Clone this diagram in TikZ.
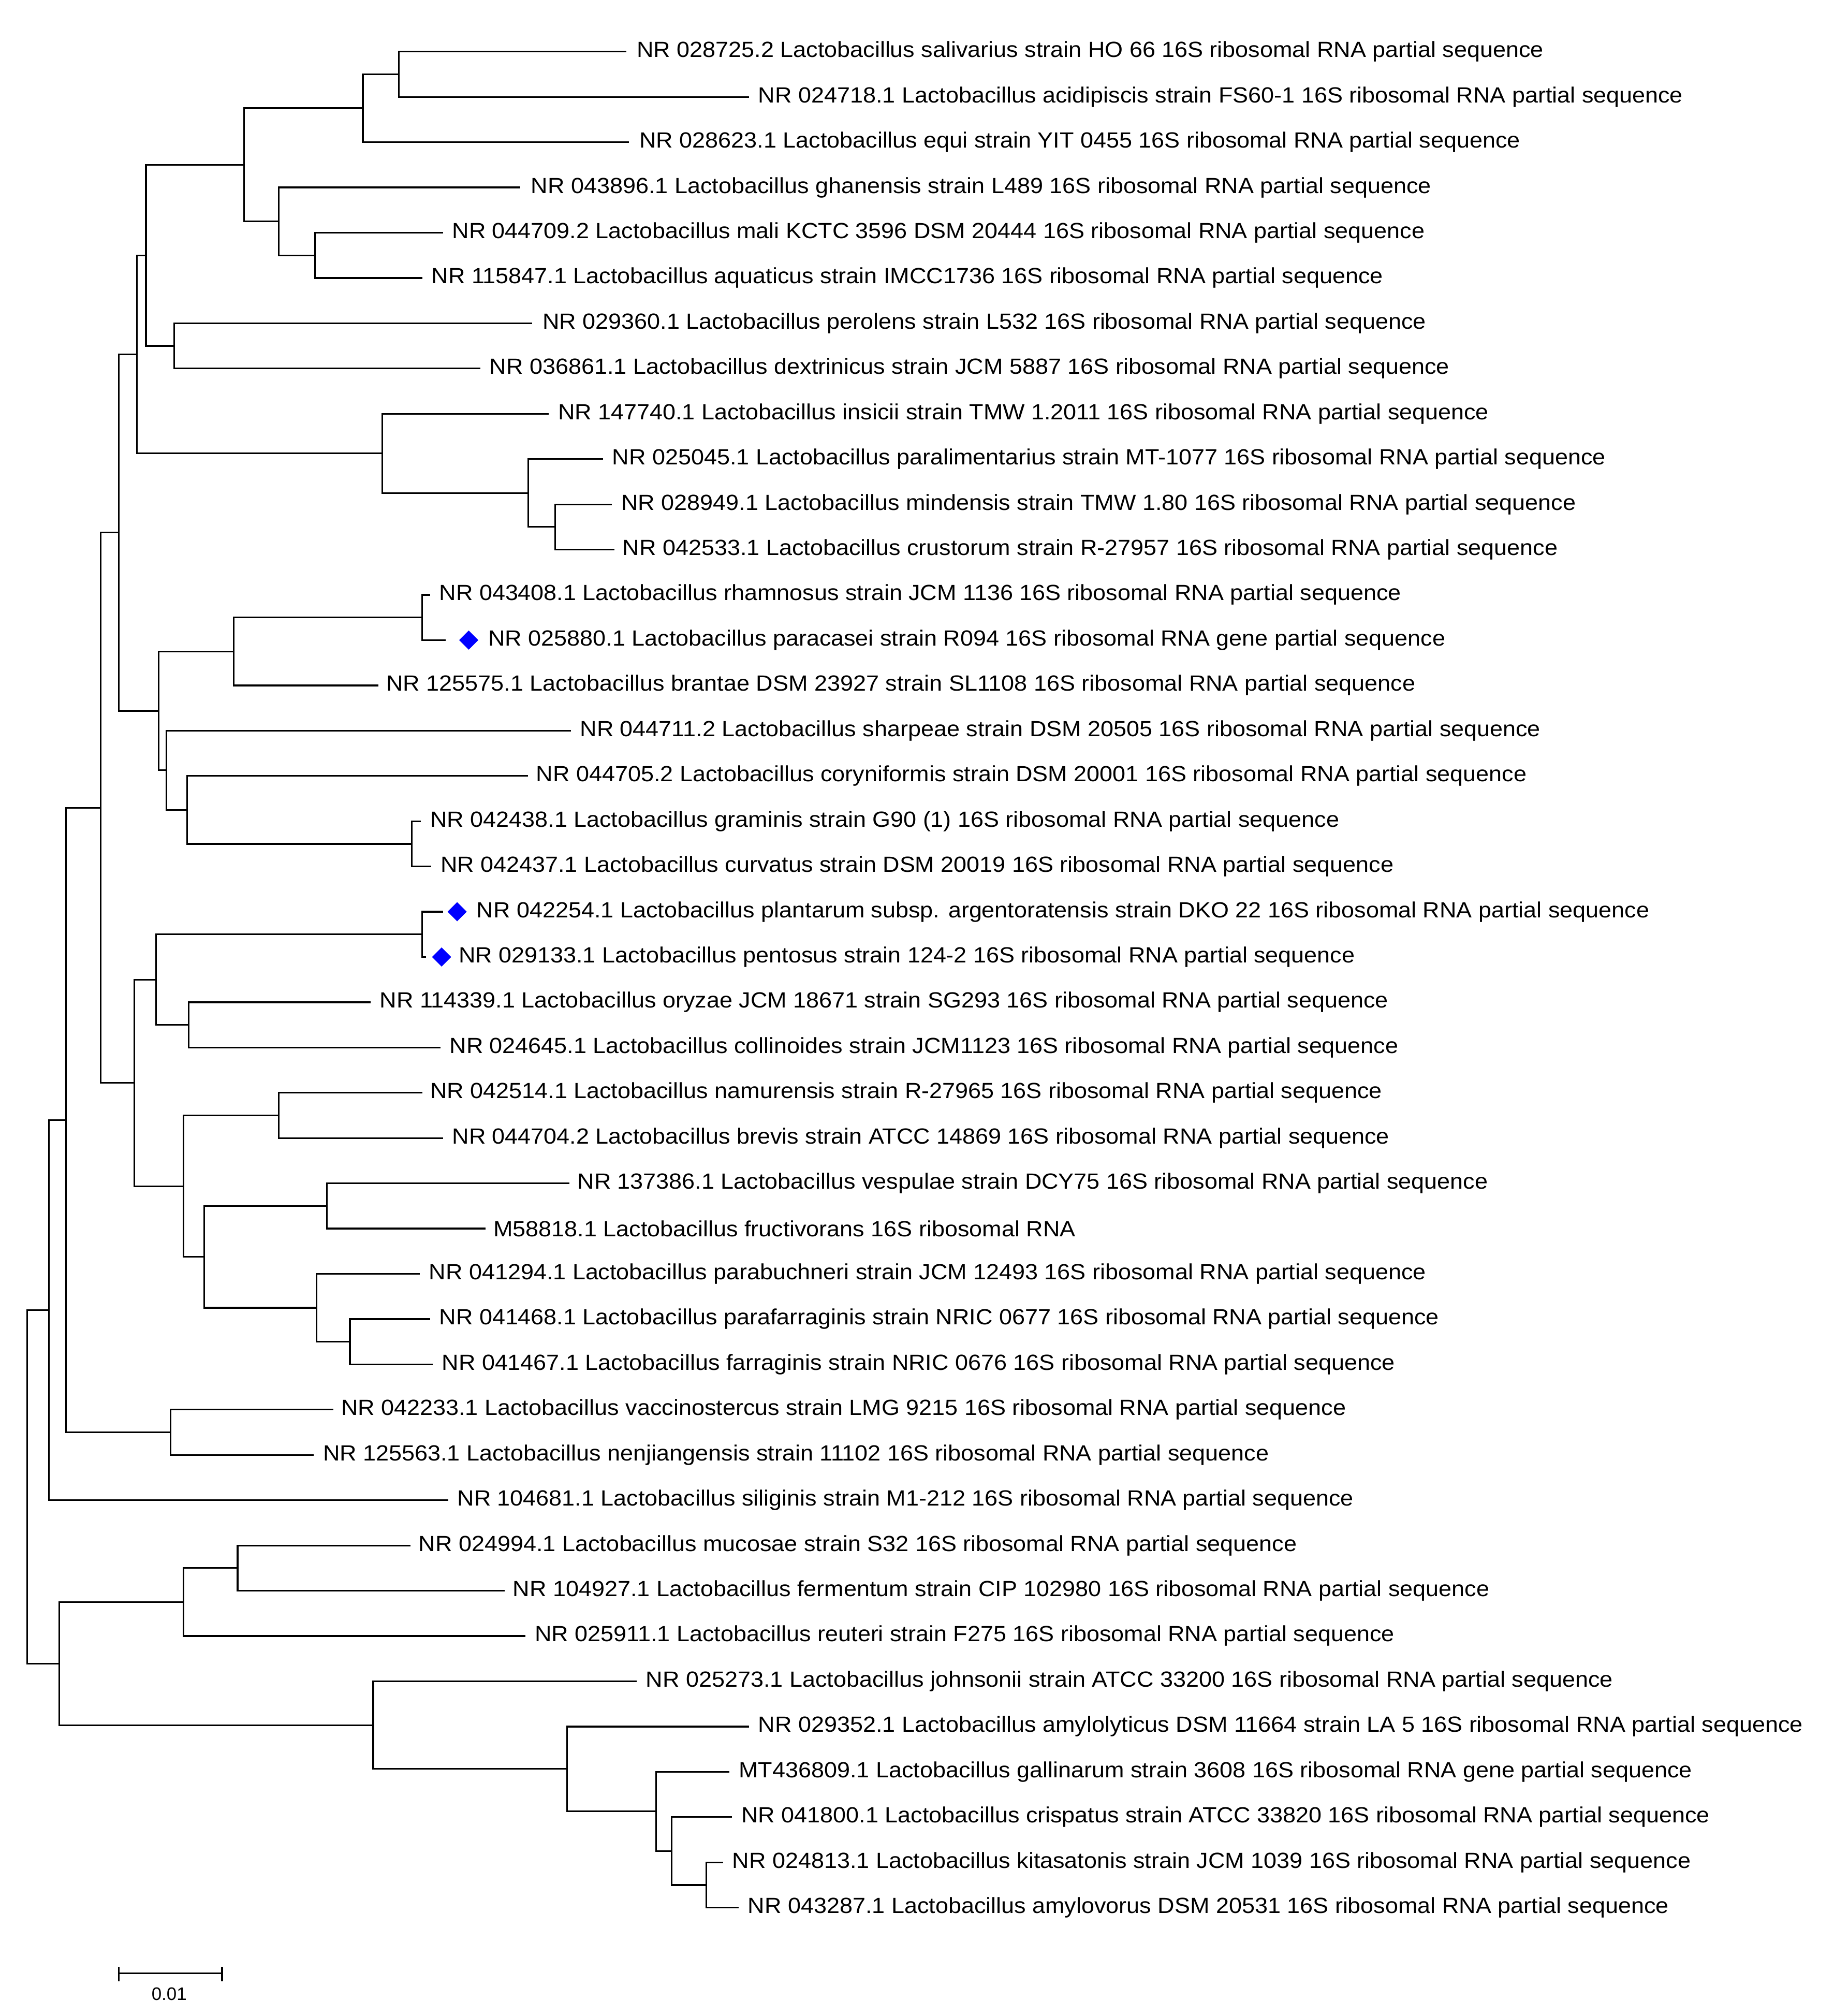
\documentclass[tikz,border=0pt]{standalone}
\usepackage{fontspec}
\setmainfont{Liberation Sans}
\newfontfamily\leaffont[FakeStretch=1.06]{Liberation Sans}
\usetikzlibrary{calc,shapes.geometric}
\newcommand\inode[4]{\path let \p1=(#3),\p2=(#4) in coordinate (#1) at (#2pt,{0.5*\y1+0.5*\y2}); \draw[br] (#1) |- (#3) (#1) |- (#4);}
\begin{document}
\begin{tikzpicture}[x=1pt,y=1pt,br/.style={line width=1.3pt},
 lab/.style={anchor=west,inner sep=0pt,font=\leaffont\fontsize{17}{19}\selectfont},
 dia/.style={diamond,fill=blue,inner sep=0pt,minimum size=15pt}]
\useasboundingbox (0,0) rectangle (1420,-1561);
\foreach \i/\t/\o/\s in {
0/485/8/NR 028725.2 Lactobacillus salivarius strain HO 66 16S ribosomal RNA partial sequence,
1/580/7/NR 024718.1 Lactobacillus acidipiscis strain FS60-1 16S ribosomal RNA partial sequence,
2/487/8/NR 028623.1 Lactobacillus equi strain YIT 0455 16S ribosomal RNA partial sequence,
3/403/8/NR 043896.1 Lactobacillus ghanensis strain L489 16S ribosomal RNA partial sequence,
4/343/7/NR 044709.2 Lactobacillus mali KCTC 3596 DSM 20444 16S ribosomal RNA partial sequence,
5/327/7/NR 115847.1 Lactobacillus aquaticus strain IMCC1736 16S ribosomal RNA partial sequence,
6/412/8/NR 029360.1 Lactobacillus perolens strain L532 16S ribosomal RNA partial sequence,
7/372/7/NR 036861.1 Lactobacillus dextrinicus strain JCM 5887 16S ribosomal RNA partial sequence,
8/425/7/NR 147740.1 Lactobacillus insicii strain TMW 1.2011 16S ribosomal RNA partial sequence,
9/467/7/NR 025045.1 Lactobacillus paralimentarius strain MT-1077 16S ribosomal RNA partial sequence,
10/474/7/NR 028949.1 Lactobacillus mindensis strain TMW 1.80 16S ribosomal RNA partial sequence,
11/476/6/NR 042533.1 Lactobacillus crustorum strain R-27957 16S ribosomal RNA partial sequence,
12/333/7/NR 043408.1 Lactobacillus rhamnosus strain JCM 1136 16S ribosomal RNA partial sequence,
13/345/33/NR 025880.1 Lactobacillus paracasei strain R094 16S ribosomal RNA gene partial sequence,
14/293/6/NR 125575.1 Lactobacillus brantae DSM 23927 strain SL1108 16S ribosomal RNA partial sequence,
15/442/7/NR 044711.2 Lactobacillus sharpeae strain DSM 20505 16S ribosomal RNA partial sequence,
16/409/6/NR 044705.2 Lactobacillus coryniformis strain DSM 20001 16S ribosomal RNA partial sequence,
17/326/7/NR 042438.1 Lactobacillus graminis strain G90 (1) 16S ribosomal RNA partial sequence,
18/334/7/NR 042437.1 Lactobacillus curvatus strain DSM 20019 16S ribosomal RNA partial sequence,
19/343/26/NR 042254.1 Lactobacillus plantarum subsp. argentoratensis strain DKO 22 16S ribosomal RNA partial sequence,
20/330/25/NR 029133.1 Lactobacillus pentosus strain 124-2 16S ribosomal RNA partial sequence,
21/287/7/NR 114339.1 Lactobacillus oryzae JCM 18671 strain SG293 16S ribosomal RNA partial sequence,
22/341/7/NR 024645.1 Lactobacillus collinoides strain JCM1123 16S ribosomal RNA partial sequence,
23/327/6/NR 042514.1 Lactobacillus namurensis strain R-27965 16S ribosomal RNA partial sequence,
24/343/7/NR 044704.2 Lactobacillus brevis strain ATCC 14869 16S ribosomal RNA partial sequence,
25/441/6/NR 137386.1 Lactobacillus vespulae strain DCY75 16S ribosomal RNA partial sequence,
26/376/6/M58818.1 Lactobacillus fructivorans 16S ribosomal RNA,
27/325/7/NR 041294.1 Lactobacillus parabuchneri strain JCM 12493 16S ribosomal RNA partial sequence,
28/333/7/NR 041468.1 Lactobacillus parafarraginis strain NRIC 0677 16S ribosomal RNA partial sequence,
29/335/7/NR 041467.1 Lactobacillus farraginis strain NRIC 0676 16S ribosomal RNA partial sequence,
30/258/6/NR 042233.1 Lactobacillus vaccinostercus strain LMG 9215 16S ribosomal RNA partial sequence,
31/243/7/NR 125563.1 Lactobacillus nenjiangensis strain 11102 16S ribosomal RNA partial sequence,
32/347/7/NR 104681.1 Lactobacillus siliginis strain M1-212 16S ribosomal RNA partial sequence,
33/318/6/NR 024994.1 Lactobacillus mucosae strain S32 16S ribosomal RNA partial sequence,
34/391/6/NR 104927.1 Lactobacillus fermentum strain CIP 102980 16S ribosomal RNA partial sequence,
35/407/7/NR 025911.1 Lactobacillus reuteri strain F275 16S ribosomal RNA partial sequence,
36/493/7/NR 025273.1 Lactobacillus johnsonii strain ATCC 33200 16S ribosomal RNA partial sequence,
37/580/7/NR 029352.1 Lactobacillus amylolyticus DSM 11664 strain LA 5 16S ribosomal RNA partial sequence,
38/565/7/MT436809.1 Lactobacillus gallinarum strain 3608 16S ribosomal RNA gene partial sequence,
39/567/7/NR 041800.1 Lactobacillus crispatus strain ATCC 33820 16S ribosomal RNA partial sequence,
40/560/7/NR 024813.1 Lactobacillus kitasatonis strain JCM 1039 16S ribosomal RNA partial sequence,
41/572/7/NR 043287.1 Lactobacillus amylovorus DSM 20531 16S ribosomal RNA partial sequence}
{ \coordinate (l\i) at (\t,{-40-35.05*\i});
  \node[lab] (t\i) at ($(l\i)+(\o,0)$) {\s}; }
\node[dia] (d13) at ($(l13)+(18,0)$) {};
\node[dia] (d19) at ($(l19)+(11,0)$) {};
\node[dia] (d20) at ($(l20)+(12,0)$) {};
\inode{A}{309}{l0}{l1}
\inode{B}{281}{A}{l2}
\inode{C}{244}{l4}{l5}
\inode{D}{216}{l3}{C}
\inode{E}{189}{B}{D}
\inode{F}{135}{l6}{l7}
\inode{G}{113}{E}{F}
\inode{H}{430}{l10}{l11}
\inode{I}{409}{l9}{H}
\inode{J}{296}{l8}{I}
\inode{K}{106}{G}{J}
\inode{L}{327}{l12}{l13}
\inode{M}{181}{L}{l14}
\inode{N}{319}{l17}{l18}
\inode{O}{145}{l16}{N}
\inode{P}{129}{l15}{O}
\inode{Q}{123}{M}{P}
\inode{R}{92}{K}{Q}
\inode{S}{327}{l19}{l20}
\inode{T}{146}{l21}{l22}
\inode{T2}{121}{S}{T}
\inode{U}{216}{l23}{l24}
\inode{V}{253}{l25}{l26}
\inode{W}{271}{l28}{l29}
\inode{X}{245}{l27}{W}
\inode{Y}{158}{V}{X}
\inode{Z}{142}{U}{Y}
\inode{AA}{104}{T2}{Z}
\inode{AB}{78}{R}{AA}
\inode{AC}{132}{l30}{l31}
\inode{AD}{51}{AB}{AC}
\inode{AE}{38}{AD}{l32}
\inode{AF}{184}{l33}{l34}
\inode{AG}{142}{AF}{l35}
\inode{AH}{547}{l40}{l41}
\inode{AI}{520}{l39}{AH}
\inode{AJ}{508}{l38}{AI}
\inode{AK}{439}{l37}{AJ}
\inode{AL}{289}{l36}{AK}
\inode{AM}{46}{AG}{AL}
\inode{root}{21}{AE}{AM}
\coordinate (s1) at (92,-1528);
\coordinate (s2) at (172,-1528);
\draw[br] (s1) -- (s2) ($(s1)+(0,5)$) -- ($(s1)+(0,-6)$) ($(s2)+(0,5)$) -- ($(s2)+(0,-6)$);
\node[inner sep=0pt,font=\fontsize{14}{16}\selectfont] (sl) at (131,-1544) {0.01};
\end{tikzpicture}
\end{document}
